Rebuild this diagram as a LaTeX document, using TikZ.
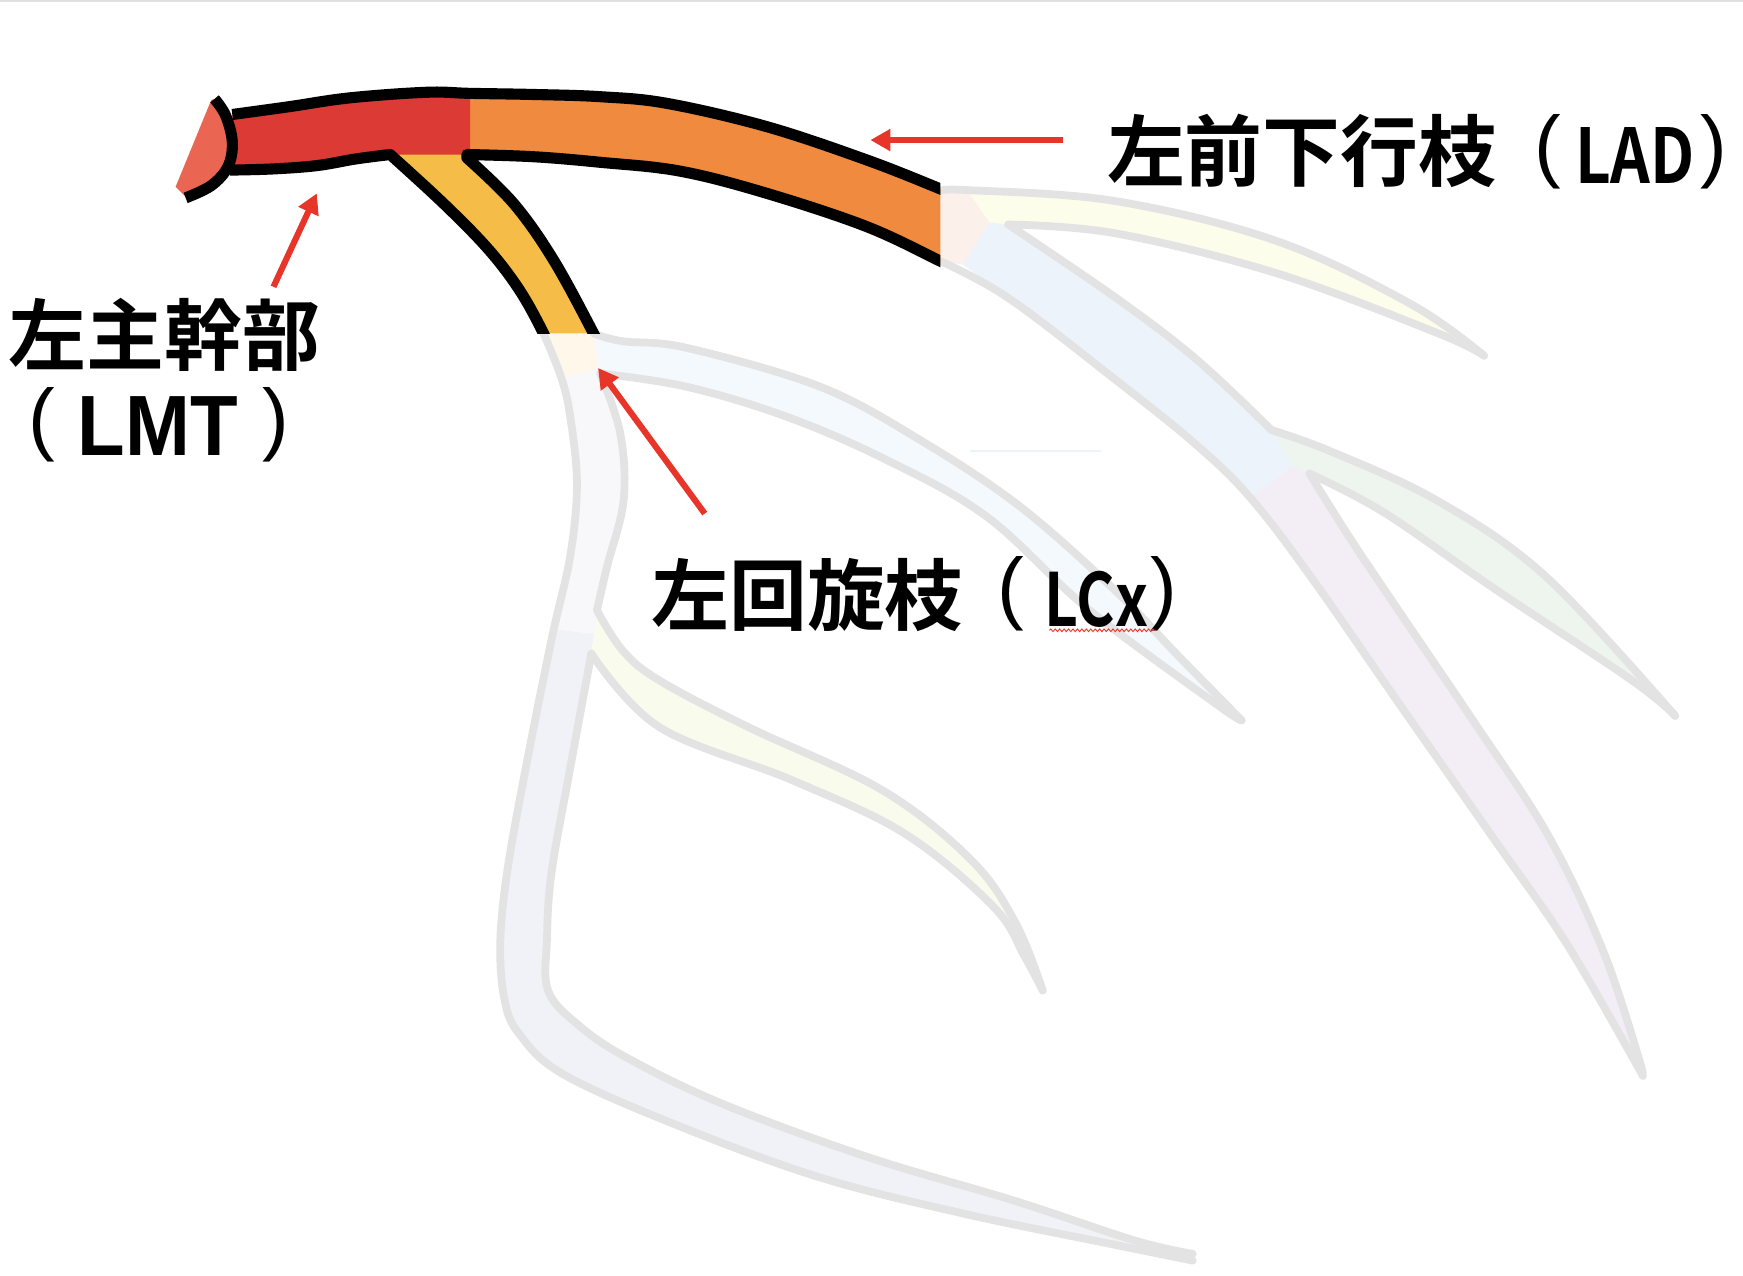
\documentclass[tikz,border=0pt]{standalone}
\usepackage{fontspec}
\usepackage{graphicx}
\usetikzlibrary{arrows.meta,decorations.pathmorphing}
\newfontfamily\cjkb{Noto Sans CJK JP}[UprightFont=* Bold]
\newfontfamily\lat{Liberation Sans}
\newcommand\fsz[1]{\fontsize{#1}{#1}\selectfont}
\definecolor{cred}{HTML}{DB3A35}
\definecolor{corange}{HTML}{EF8A3F}
\definecolor{cyellow}{HTML}{F5BD47}
\definecolor{ccap}{HTML}{EA6552}
\definecolor{carrow}{HTML}{E8352A}
\definecolor{fgray}{HTML}{E3E3E3}
\definecolor{fpink}{HTML}{FCF0EA}
\definecolor{fyel}{HTML}{FDFDEB}
\definecolor{fblue}{HTML}{ECF3FB}
\definecolor{fgreen}{HTML}{EDF5EE}
\definecolor{fpurple}{HTML}{F3EDF6}
\definecolor{fcream}{HTML}{FEF7EA}
\definecolor{fwhite}{HTML}{F8F8FB}
\definecolor{fgrey}{HTML}{F1F2F7}
\definecolor{fom}{HTML}{F4F9FD}
\definecolor{fyel2}{HTML}{F9FBEC}
\tikzset{
  fadeline/.style={draw=fgray, line width=7pt, line cap=round, line join=round},
  blackedge/.style={draw=black, line width=10pt, line cap=butt, line join=round},
  redarrow/.style={draw=carrow, line width=5.5pt, -{Triangle[length=18pt,width=19pt]}},
  lbl/.style={anchor=base west, inner sep=0pt, outer sep=0pt},
  sm/.style={smooth, tension=0.6}
}
\begin{document}
\begin{tikzpicture}[x=1pt,y=-1pt]
\useasboundingbox (0,0) rectangle (1568,1147);
\fill[white] (0,0) rectangle (1568,1147);
\draw[black!12, line width=2pt] (0,1) -- (1568,1);
% ---------- faded fills ----------
% diagonal 1
\fill[fyel] plot[sm] coordinates {(870,171) (1004,181) (1149,217) (1270,274) (1335,320)}
  -- plot[sm] coordinates {(1294,300) (1149,246) (1004,210) (907,202)} -- (890,200) -- cycle;
% pink patch
\fill[fpink] (846,171) -- (870,171) -- (890,200) -- (866,238) -- (846,235) -- cycle;
% LAD continuation
\fill[fblue] (890,200) -- (907,202) -- plot[sm] coordinates {(907,202) (1004,268) (1076,323) (1144,387)}
  -- (1163,419) -- (1125,448) -- plot[sm] coordinates {(1125,448) (1076,400) (1004,342) (907,268) (866,238)} -- cycle;
% diagonal 2
\fill[fgreen] (1144,387) -- plot[sm] coordinates {(1144,387) (1197,406) (1294,451) (1391,519) (1507,644)}
  -- plot[sm] coordinates {(1468,612) (1342,528) (1245,461) (1178,426)} -- (1163,419) -- cycle;
% LAD distal
\fill[fpurple] (1125,448) -- (1163,419) -- plot[sm] coordinates {(1178,426) (1215,485) (1260,552) (1325,648) (1393,752) (1444,860) (1478,962)}
  -- plot[sm] coordinates {(1410,850) (1342,752) (1260,635) (1180,520) (1125,448)} -- cycle;
% LCx main
\fill[fgrey] plot[sm] coordinates {(489,300) (505,340) (513,375) (519,435) (513,500) (496,576) (472,696) (456,786) (450,850) (454,900) (467,930) (506,966) (606,1011) (737,1059) (868,1092) (999,1119) (1073,1134)}
  -- plot[sm] coordinates {(1073,1128) (1021,1116) (912,1080) (781,1041) (650,993) (563,951) (519,921) (493,891) (492,846) (496,786) (512,696) (532,588)}
  -- plot[sm] coordinates {(537,549) (546,510) (561,450) (558,390) (540,336)} -- (537,306) -- cycle;
\begin{scope}
\clip (0,0) -- (1568,0) -- (1568,562) -- (530,570) -- (490,565) -- (0,565) -- cycle;
\fill[fwhite] plot[sm] coordinates {(489,300) (505,340) (513,375) (519,435) (513,500) (496,576) (472,696)}
  -- (540,696) -- plot[sm] coordinates {(532,588) (537,549) (546,510) (561,450) (558,390) (540,336)} -- (537,306) -- cycle;
\end{scope}
\fill[fcream] (489,300) -- (534,300) -- (538,331) -- (507,340) -- cycle;
% OM branch
\fill[fom] plot[sm] coordinates {(534,300) (560,307) (618,313) (738,348) (828,396) (918,456) (1004,532) (1060,590) (1117,648)}
  -- plot[sm] coordinates {(1095,634) (979,548) (888,465) (798,414) (708,375) (618,348) (540,336)} -- (538,320) -- cycle;
% LCx branch 2
\fill[fyel2] plot[sm] coordinates {(537,549) (560,585) (593,612) (673,654) (794,711) (874,774) (914,831) (938,891)}
  -- plot[sm] coordinates {(922,861) (894,816) (814,750) (713,702) (593,654) (532,588)} -- cycle;
% faint line
\draw[fblue, line width=1.5pt] (873,406) -- (990,406);
% ---------- faded outlines ----------
\draw[fadeline] plot[sm] coordinates {(846,172) (870,171) (1004,181) (1149,217) (1270,274) (1335,320)};
\draw[fadeline] plot[sm] coordinates {(907,202) (1004,210) (1149,246) (1294,300) (1335,320)};
\draw[fadeline] plot[sm] coordinates {(907,202) (1004,268) (1076,323) (1144,387)};
\draw[fadeline] plot[sm] coordinates {(1144,387) (1197,406) (1294,451) (1391,519) (1507,644)};
\draw[fadeline] plot[sm] coordinates {(1178,426) (1245,461) (1342,528) (1468,612) (1507,644)};
\draw[fadeline] plot[sm] coordinates {(1178,426) (1215,485) (1260,552) (1325,648) (1393,752) (1444,860) (1478,965)};
\draw[fadeline] plot[sm] coordinates {(846,235) (907,268) (1004,342) (1076,400) (1125,448) (1180,520) (1260,635) (1342,752) (1410,850) (1478,968)};
\draw[fadeline] plot[sm] coordinates {(489,300) (505,340) (513,375) (519,435) (513,500) (496,576) (472,696) (456,786) (450,850) (454,900) (467,930) (506,966) (606,1011) (737,1059) (868,1092) (999,1119) (1073,1134)};
\draw[fadeline] plot[sm] coordinates {(534,300) (560,307) (618,313) (738,348) (828,396) (918,456) (1004,532) (1060,590) (1117,648)};
\draw[fadeline] plot[sm] coordinates {(540,336) (618,348) (708,375) (798,414) (888,465) (979,548) (1095,634) (1117,648)};
\draw[fadeline] plot[sm] coordinates {(540,336) (558,390) (561,450) (546,510) (537,549)}
  -- plot[sm] coordinates {(537,549) (560,585) (593,612) (673,654) (794,711) (874,774) (914,831) (938,891)};
\draw[fadeline] plot[sm] coordinates {(938,891) (922,861) (894,816) (814,750) (713,702) (593,654) (532,588)};
\draw[fadeline] plot[sm] coordinates {(532,588) (512,696) (496,786) (492,846) (493,891) (519,921) (563,951) (650,993) (781,1041) (912,1080) (1021,1116) (1073,1128)};
% ---------- coloured vessels ----------
\fill[corange] plot[sm] coordinates {(423,84) (480,85) (540,87) (600,93) (690,114) (780,144) (846,170)}
  -- (846,235) -- plot[sm] coordinates {(846,235) (780,204) (690,174) (612,154) (540,146) (480,141) (420,139)} -- cycle;
\fill[cyellow] (351,134) -- plot[sm] coordinates {(351,139) (400,184) (440,225) (468,262) (489,300)}
  -- (534,300) -- plot[sm] coordinates {(534,300) (498,234) (462,183) (420,142)} -- (420,134) -- cycle;
\fill[cred] plot[sm] coordinates {(209,103) (260,96) (315,88) (384,83) (423,84)}
  -- (423,139) -- (351,139) -- plot[sm] coordinates {(351,139) (320,143) (285,149) (245,152) (207,153)} -- (209,128) -- cycle;
\fill[ccap] (190,90) -- (158,168) -- (167,177) -- plot[sm] coordinates {(167,178) (190,167) (205,150) (209,128) (203,104) (193,89)} -- cycle;
\begin{scope}
\clip (0,0) -- (846,0) -- (846,300) -- (0,300) -- cycle;
\draw[blackedge] plot[sm] coordinates {(209,103) (260,96) (315,88) (384,83) (423,84) (480,85) (540,87) (600,93) (690,114) (780,144) (846,170) (856,175)};
\draw[blackedge] plot[sm] coordinates {(207,153) (245,152) (285,149) (320,143) (351,139)}
  -- plot[sm] coordinates {(351,139) (400,184) (440,225) (468,262) (489,300) (492,310)};
\draw[blackedge] plot[sm] coordinates {(538,310) (534,300) (498,234) (462,183) (420,142)}
  -- plot[sm] coordinates {(420,139) (480,141) (540,146) (612,154) (690,174) (780,204) (846,235) (856,240)};
\draw[blackedge] plot[sm] coordinates {(193,89) (203,104) (209,128) (205,150) (190,167) (167,178)};
\end{scope}
% ---------- arrows ----------
\coordinate (ladT) at (956,126); \coordinate (ladH) at (783,126);
\coordinate (lmtT) at (246,258); \coordinate (lmtH) at (285,174);
\coordinate (lcxT) at (634,462); \coordinate (lcxH) at (538,331);
\draw[redarrow] (ladT) -- (ladH);
\draw[redarrow] (lmtT) -- (lmtH);
\draw[redarrow] (lcxT) -- (lcxH);
% ---------- labels ----------
\node[lbl] (lad1) at (996,162) {\cjkb\fsz{70}左前下行枝};
\node[lbl] (lad2) at (1380,155) {\lat\fsz{72}(};
\node[lbl] (lad3) at (1417,165) {\scalebox{0.82}[1]{\cjkb\fsz{68}LAD}};
\node[lbl] (lad4) at (1530,155) {\lat\fsz{72})};
\node[lbl] (lmt1) at (8,328) {\cjkb\fsz{70}左主幹部};
\node[lbl] (lmt2) at (26,401) {\lat\fsz{72}(};
\node[lbl] (lmt3) at (70,410) {\scalebox{0.91}[1]{\lat\bfseries\fsz{77}LMT}};
\node[lbl] (lmt4) at (236,401) {\lat\fsz{72})};
\node[lbl] (lcx1) at (586,562) {\cjkb\fsz{70}左回旋枝};
\node[lbl] (lcx2) at (897,553) {\lat\fsz{72}(};
\node[lbl] (lcx3) at (940,564) {\scalebox{0.8}[1]{\cjkb\fsz{66}LCx}};
\node[lbl] (lcx4) at (1035,553) {\lat\fsz{72})};
\coordinate (ulA) at (944,567); \coordinate (ulB) at (1040,567);
\draw[carrow, line width=0.8pt, decorate, decoration={snake, amplitude=1.2pt, segment length=4pt}] (ulA) -- (ulB);
\end{tikzpicture}
\end{document}
